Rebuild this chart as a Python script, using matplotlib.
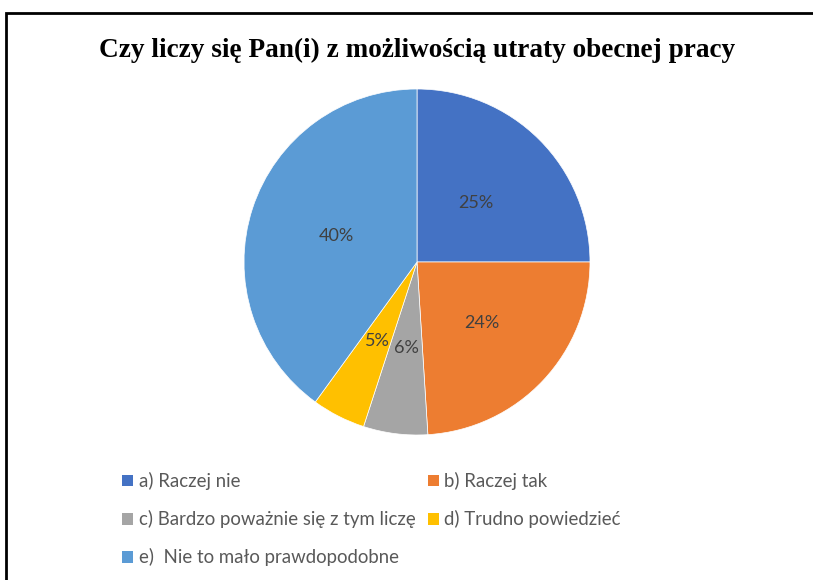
import matplotlib
matplotlib.use("Agg")
import matplotlib.pyplot as plt
from matplotlib.patches import Rectangle, Patch
import numpy as np

categories = ["a) Raczej nie", "b) Raczej tak", "c) Bardzo poważnie się z tym liczę",
              "d) Trudno powiedzieć", "e)  Nie to mało prawdopodobne"]
values = [25, 24, 6, 5, 40]
colors = ["#4472C4", "#ED7D31", "#A5A5A5", "#FFC000", "#5B9BD5"]
title = "Czy liczy się Pan(i) z możliwością utraty obecnej pracy"

fig = plt.figure(figsize=(8.13, 5.8), dpi=100)
W, H = 813, 580

# frame
fig.patches.append(Rectangle((6 / W, -0.01), 1.02, 1 - 13 / H + 0.01, transform=fig.transFigure,
                             fill=False, edgecolor="black", linewidth=2))

fig.text(0.513, 1 - 50 / H, title, ha="center", va="center", fontsize=19.6,
         fontweight="bold", family="Liberation Serif", color="black")

cx, cy, r = 417, 262, 173
ax = fig.add_axes([(cx - r) / W, (H - cy - r) / H, 2 * r / W, 2 * r / H])
wedges, texts, autotexts = ax.pie(values, colors=colors, startangle=90, counterclock=False,
                                  autopct="%d%%", pctdistance=0.5,
                                  wedgeprops=dict(edgecolor="white", linewidth=0.5),
                                  textprops=dict(fontsize=13, color="#404040", family="Lato"))
ax.set_xlim(-1, 1)
ax.set_ylim(-1, 1)
ax.set_aspect("equal")
adj = {0: 0.48, 1: 0.515, 2: 0.5, 3: 0.51, 4: 0.49}
ang = 90.0
for i, v in enumerate(values):
    span = v / sum(values) * 360
    mid = np.deg2rad(ang - span / 2)
    ang -= span
    autotexts[i].set_position((adj[i] * np.cos(mid), adj[i] * np.sin(mid)))

# row-wise order for a 2-column legend: column 1 = a, c, e ; column 2 = b, d
order = [0, 2, 4, 1, 3]
handles = [Patch(facecolor=colors[i], edgecolor="none") for i in order]
labels = [categories[i] for i in order]
fig.legend(handles, labels, ncol=2, frameon=False, loc="upper left",
           bbox_to_anchor=(122 / W, 1 - 472 / H), borderaxespad=0, borderpad=0,
           handlelength=0.6, handleheight=0.6, handletextpad=0.3,
           columnspacing=0.65, labelspacing=1.08,
           prop=dict(family="Lato", size=13.4), labelcolor="#595959")

fig.savefig("out.png", dpi=100)
